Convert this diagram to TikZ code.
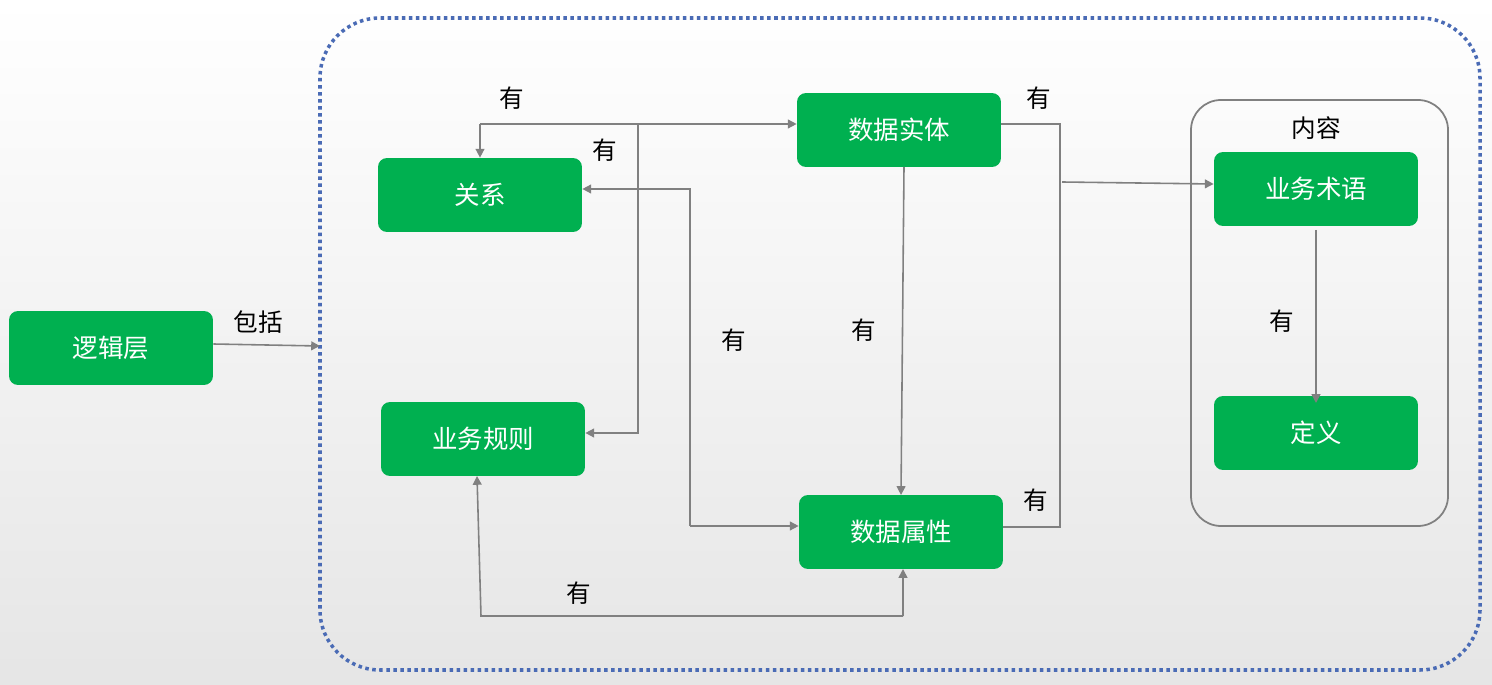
\documentclass[tikz,border=0pt]{standalone}
\usepackage{fontspec}
\newfontfamily\cjk{Noto Sans CJK SC}
\usetikzlibrary{arrows.meta}
\definecolor{grn}{HTML}{00B050}
\definecolor{ln}{HTML}{808080}
\definecolor{dblue}{HTML}{4A6BB5}
\tikzset{
 box/.style={fill=grn,rounded corners=0.18cm,minimum width=4.08cm,minimum height=1.48cm,text=white,font=\cjk\fontsize{14.5}{16}\selectfont,inner sep=0pt},
 lbl/.style={font=\cjk\fontsize{14}{16}\selectfont,text=black,inner sep=0pt},
 con/.style={draw=ln,line width=0.9pt,-{Triangle[length=5pt,width=5pt]}},
 ln/.style={draw=ln,line width=0.9pt}
}
\begin{document}
\begin{tikzpicture}[x=0.02cm,y=-0.02cm]
\shade[top color=white,bottom color=black!10] (0,0) rectangle (1492,685);
\useasboundingbox (0,0) rectangle (1492,685);
\draw[dblue,line width=2pt,dotted,rounded corners=1.2cm] (320,18) rectangle (1480,670);
\draw[ln,line width=1pt,rounded corners=0.6cm] (1191,100) rectangle (1448,526);
\node[lbl] (nr) at (1316,128) {内容};
\node[box] (ljc) at (111,348) {逻辑层};
\node[box] (gx) at (480,195) {关系};
\node[box] (gz) at (483,439) {业务规则};
\node[box] (st) at (899,130) {数据实体};
\node[box] (sx) at (901,532) {数据属性};
\node[box] (sy) at (1316,189) {业务术语};
\node[box] (dy) at (1316,433) {定义};
% connectors
\coordinate (dots) at (320,346);
\draw[con] (ljc.east |- 0,344) -- (dots);
\node[lbl] at (258,322) {包括};
\coordinate (t1) at (480,124);
\coordinate (t2) at (638,124);
\draw[con] (t1) -- (gx.north);
\draw[con] (t1) -- (st.west |- t1);
\draw[con] (t2) -- (638,433) -- (gz.east |- 0,433);
\node[lbl] at (512,98) {有};
\node[lbl] at (605,150) {有};
\draw[con] (690,526) -- (690,189) -- (gx.east |- 0,189);
\draw[con] (690,526) -- (sx.west |- 0,526);
\node[lbl] at (734,340) {有};
\draw[con] (904,167) -- (901,495);
\node[lbl] at (864,330) {有};
\draw[con] (903,616) -- (481,616) -- (477,476);
\draw[con] (903,616) -- (903,569);
\node[lbl] at (579,593) {有};
\draw[ln] (st.east |- 0,124) -- (1060,124) -- (1060,527) -- (sx.east |- 0,527);
\draw[con] (1062,182) -- (sy.west |- 0,184);
\node[lbl] at (1039,98) {有};
\node[lbl] at (1036,500) {有};
\draw[con] (1316,230) -- (1316,403);
\node[lbl] at (1282,321) {有};
\end{tikzpicture}
\end{document}
